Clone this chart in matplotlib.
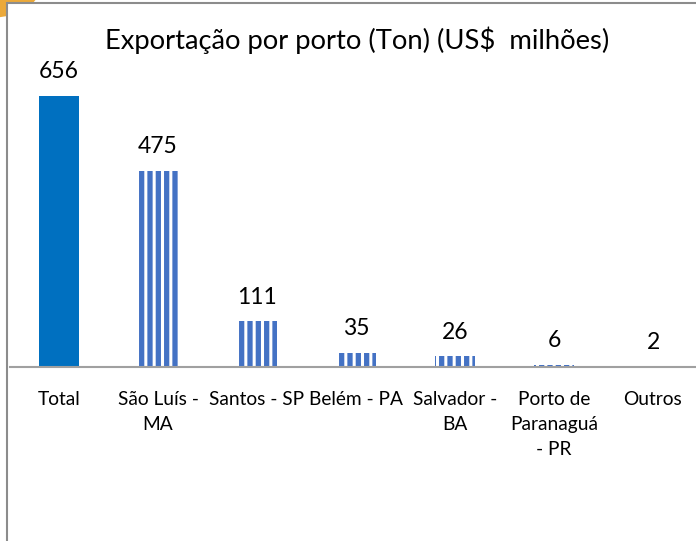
import matplotlib
matplotlib.use("Agg")
import matplotlib.pyplot as plt
from matplotlib.patches import Rectangle, Circle

categories = ["Total", "São Luís -\nMA", "Santos - SP", "Belém - PA",
              "Salvador -\nBA", "Porto de\nParanaguá\n- PR", "Outros"]
values = [656, 475, 111, 35, 26, 6, 2]
title = "Exportação por porto (Ton) (US$  milhões)"

W, H = 696, 541
plt.rcParams['font.family'] = ['Lato', 'DejaVu Sans']
plt.rcParams['hatch.linewidth'] = 2.2

fig = plt.figure(figsize=(W / 100, H / 100), dpi=100)

# orange decoration at top-left corner and chart border
fig.patches.append(Circle((-5 / W, 1 + 20 / H), 48 / W, transform=fig.transFigure,
                          facecolor='#EBA93A', edgecolor='none', zorder=0))
fig.patches.append(Rectangle((7 / W, -0.1), 1.1, 1 - 3 / H + 0.1, transform=fig.transFigure,
                             facecolor='white', edgecolor='#8C8C8C', linewidth=1.5, zorder=1))

px_per_unit = 271 / 656
ax_left, ax_bottom_px, ax_top_px = 9.5, 367, 60
ax_w = 99 * len(categories)
ax = fig.add_axes([ax_left / W, 1 - ax_bottom_px / H, ax_w / W, (ax_bottom_px - ax_top_px) / H])
ax.set_zorder(2)
ax.patch.set_alpha(0)
ax.set_xlim(-0.5, len(categories) - 0.5)
ax.set_ylim(0, (ax_bottom_px - ax_top_px) / px_per_unit)

x = range(len(categories))
for i, v in enumerate(values):
    if i == 0:
        ax.bar(i, v, width=0.404, color='#0070C0', linewidth=0)
    else:
        ax.bar(i, v, width=0.404, facecolor='#4472C4', edgecolor='white', linewidth=0, hatch='||')
    ax.annotate(str(v), (i, v), xytext=(0, 24), textcoords='offset pixels',
                ha='center', va='center', fontsize=16.5, color='black')

for s in ['top', 'right', 'left']:
    ax.spines[s].set_visible(False)
ax.spines['bottom'].set_color('#A0A0A0')
ax.spines['bottom'].set_linewidth(1.5)
ax.set_yticks([])
ax.set_xticks(list(x))
ax.set_xticklabels(categories, fontsize=13.8, linespacing=1.6)
ax.tick_params(axis='x', length=0, pad=17)

fig.text(357 / W, 1 - 40 / H, title, ha='center', va='center', fontsize=19.7, zorder=3)

fig.savefig("out.png", dpi=100)
